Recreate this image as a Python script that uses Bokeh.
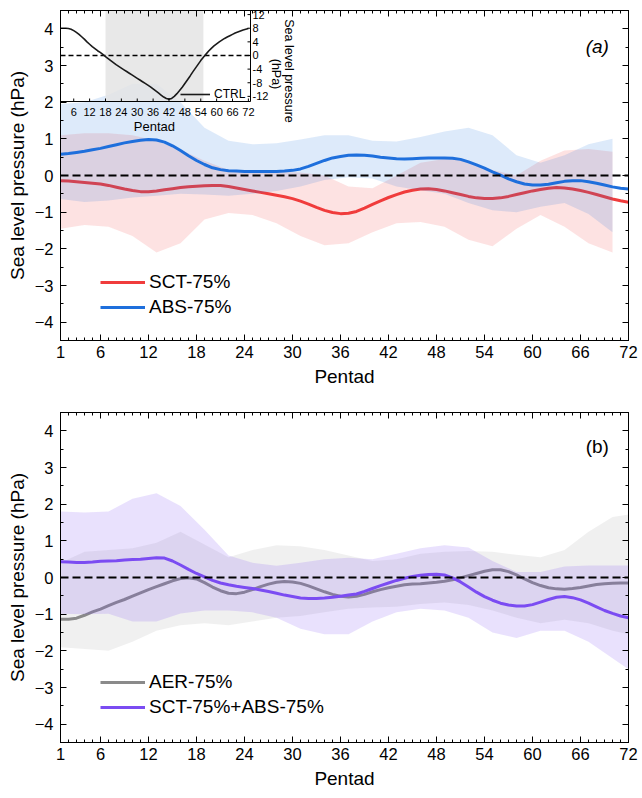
import math
from bokeh.plotting import figure
from bokeh.models import (Range1d, LinearAxis, FixedTicker, Span, Legend, LegendItem,
                          Label, CustomJSTickFormatter)
from bokeh.layouts import column
from bokeh.embed import file_html
from bokeh.resources import INLINE
from bokeh.core.properties import value

FONT = "Liberation Sans"

# ---------------- data ----------------
pentad = list(range(1, 73))
x_ticks = [1, 6, 12, 18, 24, 30, 36, 42, 48, 54, 60, 66, 72]
y_ticks = [-4, -3, -2, -1, 0, 1, 2, 3, 4]
y_minor = [-4.5, -3.5, -2.5, -1.5, -0.5, 0.5, 1.5, 2.5, 3.5, 4.5]

# panel (a) ensemble means
sct_mean = [-0.14, -0.15, -0.17, -0.19, -0.21, -0.23, -0.27, -0.32, -0.37, -0.41,
            -0.44, -0.44, -0.42, -0.39, -0.36, -0.33, -0.31, -0.29, -0.28, -0.27,
            -0.27, -0.30, -0.34, -0.38, -0.42, -0.46, -0.50, -0.54, -0.58, -0.63,
            -0.70, -0.78, -0.87, -0.95, -1.01, -1.04, -1.03, -0.98, -0.89, -0.79,
            -0.69, -0.60, -0.52, -0.45, -0.40, -0.37, -0.36, -0.38, -0.42, -0.47,
            -0.52, -0.57, -0.61, -0.63, -0.63, -0.61, -0.57, -0.52, -0.47, -0.42,
            -0.38, -0.35, -0.33, -0.34, -0.37, -0.41, -0.46, -0.52, -0.58, -0.64,
            -0.69, -0.73]
abs_mean = [0.58, 0.60, 0.63, 0.66, 0.70, 0.74, 0.79, 0.84, 0.89, 0.93,
            0.96, 0.98, 0.97, 0.91, 0.81, 0.68, 0.54, 0.41, 0.30, 0.21,
            0.16, 0.13, 0.12, 0.11, 0.11, 0.11, 0.11, 0.11, 0.12, 0.14,
            0.18, 0.25, 0.33, 0.41, 0.48, 0.52, 0.55, 0.56, 0.55, 0.53,
            0.50, 0.48, 0.46, 0.45, 0.46, 0.47, 0.48, 0.48, 0.48, 0.47,
            0.44, 0.37, 0.29, 0.20, 0.10, 0.01, -0.09, -0.17, -0.23, -0.26,
            -0.26, -0.24, -0.20, -0.16, -0.14, -0.14, -0.17, -0.21, -0.26, -0.31,
            -0.35, -0.37]

# panel (a) spread (pentads 1..70)
band_x_a = [1, 4, 7, 10, 13, 16, 19, 22, 25, 28, 31, 34, 37, 40, 43, 46, 49, 52,
            55, 58, 61, 64, 67, 70]
sct_hi = [1.10, 1.15, 1.15, 1.10, 0.95, 0.70, 0.40, 0.15, 0.10, 0.10, 0.08, 0.00,
          -0.30, -0.35, 0.00, 0.35, 0.45, 0.40, 0.15, 0.00, 0.40, 0.68, 0.72, 0.65]
sct_lo = [-1.45, -1.35, -1.40, -1.65, -2.10, -1.85, -1.20, -1.02, -1.08, -1.30,
          -1.65, -1.90, -1.85, -1.55, -1.30, -1.27, -1.40, -1.75, -1.93, -1.45,
          -1.08, -1.40, -1.85, -2.10]
abs_hi = [1.95, 2.00, 2.20, 2.50, 2.50, 2.00, 1.30, 0.95, 0.85, 0.88, 0.98, 1.10,
          1.10, 0.95, 0.93, 1.05, 1.20, 1.30, 1.10, 0.55, 0.35, 0.55, 0.85, 1.00]
abs_lo = [-0.64, -0.72, -0.68, -0.60, -0.55, -0.50, -0.52, -0.55, -0.50, -0.42,
          -0.30, -0.12, -0.05, -0.08, -0.30, -0.40, -0.50, -0.75, -0.95, -1.00,
          -0.85, -0.75, -1.05, -1.55]

# panel (b) ensemble means
aer_mean = [-1.14, -1.14, -1.11, -1.03, -0.94, -0.86, -0.77, -0.68, -0.60, -0.51,
            -0.42, -0.33, -0.25, -0.17, -0.09, -0.03, -0.01, -0.04, -0.14, -0.26,
            -0.36, -0.43, -0.44, -0.40, -0.33, -0.25, -0.18, -0.13, -0.11, -0.12,
            -0.16, -0.23, -0.31, -0.39, -0.46, -0.51, -0.53, -0.51, -0.46, -0.39,
            -0.33, -0.28, -0.24, -0.20, -0.18, -0.17, -0.15, -0.13, -0.10, -0.06,
            -0.01, 0.05, 0.11, 0.17, 0.21, 0.21, 0.16, 0.07, -0.04, -0.14,
            -0.22, -0.28, -0.31, -0.32, -0.30, -0.27, -0.23, -0.19, -0.17, -0.16,
            -0.15, -0.15]
comb_mean = [0.43, 0.42, 0.41, 0.41, 0.42, 0.44, 0.45, 0.46, 0.48, 0.49,
             0.50, 0.52, 0.54, 0.53, 0.45, 0.34, 0.22, 0.11, 0.02, -0.08,
             -0.15, -0.20, -0.24, -0.27, -0.30, -0.34, -0.38, -0.43, -0.48, -0.52,
             -0.56, -0.57, -0.57, -0.56, -0.54, -0.51, -0.48, -0.45, -0.38, -0.30,
             -0.22, -0.15, -0.08, -0.02, 0.03, 0.06, 0.08, 0.09, 0.07, -0.01,
             -0.12, -0.26, -0.40, -0.52, -0.62, -0.70, -0.75, -0.78, -0.78, -0.74,
             -0.67, -0.60, -0.54, -0.52, -0.55, -0.61, -0.70, -0.80, -0.90, -0.98,
             -1.05, -1.10]

# panel (b) spread (pentads 1..72)
band_x_b = [1, 4, 7, 10, 13, 16, 19, 22, 25, 28, 31, 34, 37, 40, 43, 46, 49, 52,
            55, 58, 61, 64, 67, 70, 72]
aer_hi = [0.40, 0.70, 0.75, 0.80, 0.95, 1.25, 0.90, 0.55, 0.75, 0.88, 0.85, 0.75,
          0.60, 0.45, 0.50, 0.65, 0.70, 0.72, 0.70, 0.62, 0.55, 0.75, 1.25, 1.65, 1.72]
aer_lo = [-1.90, -1.95, -2.00, -1.75, -1.45, -1.30, -1.25, -1.30, -1.20, -1.10,
          -1.05, -0.95, -0.85, -0.82, -0.80, -0.72, -0.68, -0.75, -0.90, -1.10,
          -1.25, -1.15, -1.25, -1.45, -1.55]
comb_hi = [1.80, 1.77, 1.80, 2.15, 2.30, 1.95, 1.30, 0.60, 0.40, 0.32, 0.40, 0.50,
           0.54, 0.50, 0.65, 0.80, 0.88, 0.82, 0.45, 0.15, 0.15, 0.30, 0.33, 0.33, 0.33]
comb_lo = [-0.99, -1.00, -0.99, -1.20, -1.20, -0.98, -0.90, -0.90, -0.95, -1.10,
           -1.40, -1.55, -1.55, -1.20, -0.95, -0.85, -0.90, -1.10, -1.50, -1.65,
           -1.45, -1.45, -1.75, -2.20, -2.50]

# inset: CTRL climatology
ctrl = [8.0, 8.0, 8.0, 7.9, 7.7, 7.3, 6.8, 6.2, 5.5, 4.8,
        4.0, 3.3, 2.6, 2.0, 1.4, 0.9, 0.3, -0.3, -0.9, -1.5,
        -2.1, -2.7, -3.2, -3.7, -4.2, -4.7, -5.2, -5.7, -6.2, -6.7,
        -7.2, -7.7, -8.2, -8.7, -9.2, -9.8, -10.4, -11.0, -11.6, -12.2,
        -12.6, -12.8, -12.6, -12.0, -11.2, -10.3, -9.3, -8.2, -7.1, -6.0,
        -4.8, -3.7, -2.6, -1.5, -0.5, 0.4, 1.3, 2.1, 2.8, 3.4,
        4.0, 4.5, 5.0, 5.4, 5.8, 6.2, 6.6, 6.9, 7.2, 7.5,
        7.7, 7.9]
inset_shade = [18, 55]
inset_x_ticks = [6, 12, 18, 24, 30, 36, 42, 48, 54, 60, 66, 72]
inset_y_ticks = [-12, -8, -4, 0, 4, 8, 12]

# ---------------- styling ----------------
RED, BLUE = "#f03c3c", "#1e6fdc"
GRAY, PURPLE = "#8a8a8a", "#7b4cf2"
FW, FH = 568, 330


def base_fig(top_border, bottom_border):
    p = figure(frame_width=FW, frame_height=FH,
               x_range=Range1d(1, 72), y_range=Range1d(-4.5, 4.5),
               output_backend="svg", toolbar_location=None,
               min_border_left=60, min_border_right=14,
               min_border_top=top_border, min_border_bottom=bottom_border)
    p.grid.visible = False
    p.outline_line_color = "black"
    p.outline_line_width = 1
    p.background_fill_color = "white"
    p.border_fill_color = "white"
    xt = FixedTicker(ticks=x_ticks, minor_ticks=pentad)
    yt = FixedTicker(ticks=y_ticks, minor_ticks=y_minor)
    p.xaxis.ticker = xt
    p.yaxis.ticker = yt
    p.xaxis.axis_label = "Pentad"
    p.yaxis.axis_label = "Sea level pressure (hPa)"
    top = LinearAxis(ticker=xt, formatter=CustomJSTickFormatter(code="return ''"))
    right = LinearAxis(ticker=yt, formatter=CustomJSTickFormatter(code="return ''"))
    p.add_layout(top, "above")
    p.add_layout(right, "right")
    for ax in p.axis:
        ax.axis_line_color = "black"
        ax.major_tick_line_color = "black"
        ax.minor_tick_line_color = "black"
        ax.major_tick_in = 6
        ax.major_tick_out = 0
        ax.minor_tick_in = 3
        ax.minor_tick_out = 0
        ax.major_label_text_font = FONT
        ax.major_label_text_font_size = "16.5px"
        ax.major_label_text_color = "black"
        ax.axis_label_text_font = FONT
        ax.axis_label_text_font_size = "19px"
        ax.axis_label_text_font_style = "normal"
        ax.axis_label_text_color = "black"
    for ax in (top, right):
        ax.major_label_text_font_size = "0px"
        ax.major_label_standoff = 0
    p.xaxis[0].major_label_standoff = 7
    p.xaxis[0].axis_label_standoff = 9
    p.yaxis[0].major_label_standoff = 7
    p.yaxis[0].axis_label_standoff = 4
    p.add_layout(Span(location=0, dimension="width", line_color="black",
                      line_width=2, line_dash="8 4"))
    return p


def make_legend(items, loc, size="19px", gw=45, gh=20):
    return Legend(items=items, location=loc, border_line_color=None,
                  background_fill_alpha=0, padding=0, margin=0, spacing=3,
                  label_standoff=4, glyph_width=gw, glyph_height=gh,
                  label_text_font=FONT, label_text_font_size=size,
                  label_text_color="black", label_height=gh)


# ---------------- panel (a) ----------------
p1 = base_fig(10, 60)
p1.varea(x=band_x_a, y1=sct_lo, y2=sct_hi, fill_color=RED, fill_alpha=0.15)
r_sct = p1.line(pentad, sct_mean, line_color=RED, line_width=3)
p1.varea(x=band_x_a, y1=abs_lo, y2=abs_hi, fill_color=BLUE, fill_alpha=0.15)
r_abs = p1.line(pentad, abs_mean, line_color=BLUE, line_width=3)

# inset drawn in the top-left corner of the frame through its own ranges
IW, IH = 190, 91
ix0, ix1 = 1, 72.8
iy0, iy1 = -13.5, 13.2
p1.extra_x_ranges = {"ix": Range1d(ix0, ix0 + (ix1 - ix0) * FW / IW)}
p1.extra_y_ranges = {"iy": Range1d(iy1 - (iy1 - iy0) * FH / IH, iy1)}
kw = dict(x_range_name="ix", y_range_name="iy")
p1.quad(left=inset_shade[0], right=inset_shade[1], bottom=iy0, top=iy1,
        fill_color="#e4e4e4", fill_alpha=0.85, line_color=None, **kw)
p1.segment(x0=[ix0], y0=[0], x1=[ix1], y1=[0], line_color="black",
           line_width=1.3, line_dash="5 3", **kw)
r_ctrl = p1.line(pentad, ctrl, line_color="#1a1a1a", line_width=1.6, **kw)
p1.quad(left=ix0, right=ix1, bottom=iy0, top=iy1, fill_alpha=0,
        line_color="black", line_width=1, **kw)
dy = 3 * (iy1 - iy0) / IH
dx = 3 * (ix1 - ix0) / IW
p1.segment(x0=inset_x_ticks, y0=[iy0] * len(inset_x_ticks), x1=inset_x_ticks,
           y1=[iy0 + dy] * len(inset_x_ticks), line_color="black", **kw)
p1.segment(x0=[ix1 - dx] * len(inset_y_ticks), y0=inset_y_ticks,
           x1=[ix1] * len(inset_y_ticks), y1=inset_y_ticks, line_color="black", **kw)
p1.text(x=inset_x_ticks, y=[iy0] * len(inset_x_ticks),
        text=[str(t) for t in inset_x_ticks], text_font=value(FONT),
        text_font_size=value("11px"), text_align="center", text_baseline="middle",
        y_offset=10, text_color="black", **kw)
p1.text(x=[ix1] * len(inset_y_ticks), y=inset_y_ticks,
        text=[str(t) for t in inset_y_ticks], text_font=value(FONT),
        text_font_size=value("11px"), text_align="left", text_baseline="middle",
        x_offset=2, text_color="black", **kw)
p1.text(x=[(ix0 + 72) / 2], y=[iy0], text=["Pentad"], text_font=value(FONT),
        text_font_size=value("13px"), text_align="center", text_baseline="middle",
        y_offset=25, text_color="black", **kw)
p1.text(x=[ix1], y=[(iy0 + iy1) / 2], text=["Sea level pressure"],
        text_font=value(FONT), text_font_size=value("12.5px"), text_align="center",
        text_baseline="middle", angle=-math.pi / 2, x_offset=38, y_offset=15,
        text_color="black", **kw)
p1.text(x=[ix1], y=[(iy0 + iy1) / 2], text=["(hPa)"],
        text_font=value(FONT), text_font_size=value("12.5px"), text_align="center",
        text_baseline="middle", angle=-math.pi / 2, x_offset=25, y_offset=18,
        text_color="black", **kw)
p1.add_layout(make_legend([LegendItem(label="CTRL", renderers=[r_ctrl])],
                          (120, 239), size="12px", gw=30, gh=12))

p1.add_layout(make_legend([LegendItem(label="SCT-75%", renderers=[r_sct]),
                           LegendItem(label="ABS-75%", renderers=[r_abs])], (40, 22)))
p1.add_layout(Label(x=68.1, y=3.52, text="(a)", text_font=FONT, text_font_size="19px",
                    text_font_style="italic", text_align="center",
                    text_baseline="middle", text_color="black"))

# ---------------- panel (b) ----------------
p2 = base_fig(12, 56)
p2.varea(x=band_x_b, y1=aer_lo, y2=aer_hi, fill_color="#000000", fill_alpha=0.06)
r_aer = p2.line(pentad, aer_mean, line_color=GRAY, line_width=3)
p2.varea(x=band_x_b, y1=comb_lo, y2=comb_hi, fill_color=PURPLE, fill_alpha=0.17)
r_comb = p2.line(pentad, comb_mean, line_color=PURPLE, line_width=3)
p2.add_layout(make_legend([LegendItem(label="AER-75%", renderers=[r_aer]),
                           LegendItem(label="SCT-75%+ABS-75%", renderers=[r_comb])],
                          (40, 24)))
p2.add_layout(Label(x=68.1, y=3.57, text="(b)", text_font=FONT, text_font_size="19px",
                    text_align="center", text_baseline="middle", text_color="black"))

layout = column(p1, p2, spacing=0)
open("out.html", "w").write(file_html(layout, INLINE))
